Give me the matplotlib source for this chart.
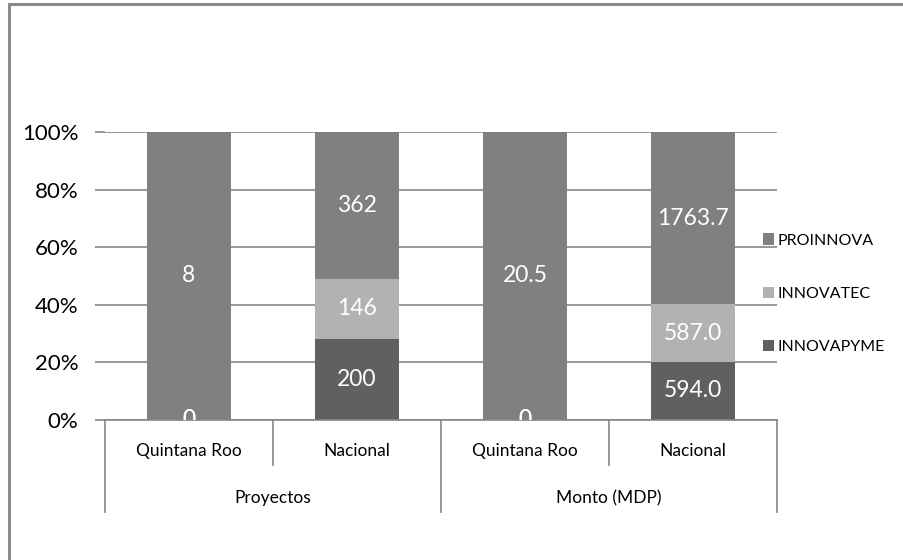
import matplotlib
matplotlib.use('Agg')
import matplotlib.pyplot as plt
import matplotlib.transforms as mtransforms
from matplotlib.patches import Patch, Rectangle
import numpy as np

plt.rcParams['font.family'] = ['Lato', 'DejaVu Sans']

# ─── Data ────────────────────────────────────────────────────────────────────
categories = ['Quintana Roo', 'Nacional', 'Quintana Roo', 'Nacional']
groups = ['Proyectos', 'Monto (MDP)']
series_names = ['INNOVAPYME', 'INNOVATEC', 'PROINNOVA']
innovapyme = [0, 200, 0, 594.0]
innovatec = [0, 146, 0, 587.0]
proinnova = [8, 362, 20.5, 1763.7]
label_fmt = ['{:.0f}', '{:.0f}', '{:.1f}', '{:.1f}']

colors = ['#606060', '#b2b2b2', '#808080']
grid_col = '#868686'

# ─── Figure ──────────────────────────────────────────────────────────────────
fig = plt.figure(figsize=(9.04, 5.6), dpi=100)
W, H = 904, 560
ax = fig.add_axes([105 / W, 1 - 420 / H, 672 / W, 288 / H])

# outer chart border (only top and left edges fall inside the image)
fig.patches.append(Rectangle((9 / W, -0.5), 1.5, 1.5 - 4 / H, transform=fig.transFigure,
                             fill=False, edgecolor='#8a8a8a', linewidth=2.2))

series = np.array([innovapyme, innovatec, proinnova], dtype=float)
totals = series.sum(axis=0)
pct = series / totals * 100
x = np.arange(len(categories))

bottom = np.zeros(len(categories))
for i, name in enumerate(series_names):
    ax.bar(x, pct[i], 0.5, bottom=bottom, color=colors[i], label=name, zorder=2)
    for j in range(len(categories)):
        v = series[i][j]
        txt = '0' if v == 0 else label_fmt[j].format(v)
        ax.text(x[j], bottom[j] + pct[i][j] / 2, txt,
                ha='center', va='center', color='white', fontsize=16.5,
                zorder=3, clip_on=True)
    bottom += pct[i]

ax.set_xlim(-0.5, len(categories) - 0.5)
ax.set_ylim(0, 100)
ax.set_yticks(np.arange(0, 101, 20))
ax.set_yticklabels([f'{v}%' for v in range(0, 101, 20)], fontsize=16)
ax.yaxis.grid(True, color=grid_col, linewidth=1.2, zorder=0)
ax.set_axisbelow(True)
ax.tick_params(axis='y', length=7, color=grid_col, width=1.2, pad=12)
ax.set_xticks([])
for s in ['left', 'right', 'top']:
    ax.spines[s].set_visible(False)
ax.spines['bottom'].set_color(grid_col)
ax.spines['bottom'].set_linewidth(1.2)

# multi-level category axis
trans = mtransforms.blended_transform_factory(ax.transData, ax.transAxes)
for k, xs in enumerate(np.arange(-0.5, len(categories), 1.0)):
    y_end = -0.319 if k % 2 == 0 else -0.156
    ax.plot([xs, xs], [0, y_end], color=grid_col, linewidth=1.2,
            transform=trans, clip_on=False)
for j, c in enumerate(categories):
    ax.text(x[j], -0.108, c, transform=trans, ha='center', va='center', fontsize=12.5)
for g, name in enumerate(groups):
    ax.text(2 * g + 0.5, -0.272, name, transform=trans, ha='center', va='center',
            fontsize=12.5)

# legend (top to bottom: PROINNOVA, INNOVATEC, INNOVAPYME)
handles = [Patch(facecolor=colors[i]) for i in (2, 1, 0)]
labels = [series_names[i] for i in (2, 1, 0)]
ax.legend(handles, labels, loc='center left', bbox_to_anchor=(0.979, 0.438),
          frameon=False, fontsize=11.5, handlelength=0.7, handleheight=0.7,
          handletextpad=0.2, labelspacing=2.45, borderpad=0, borderaxespad=0)

fig.savefig('out.png', dpi=100)
